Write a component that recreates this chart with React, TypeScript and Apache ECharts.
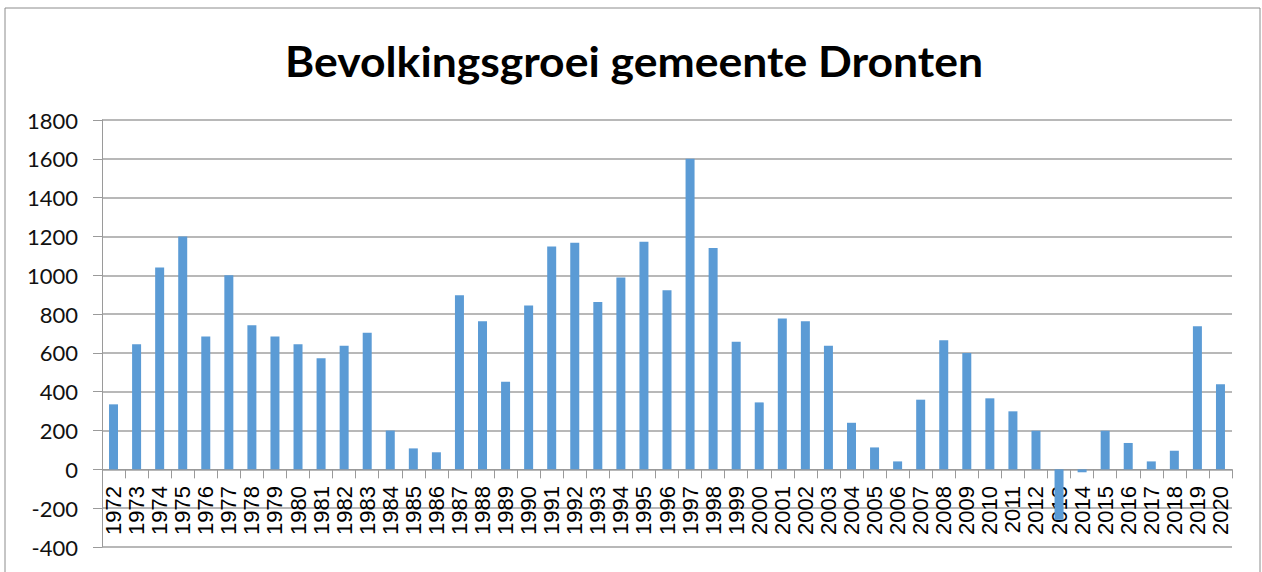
import React, { useEffect, useRef } from "react";
import * as echarts from "echarts";

const titleText = "Bevolkingsgroei gemeente Dronten";

const years: string[] = [
  "1972", "1973", "1974", "1975", "1976", "1977", "1978", "1979", "1980", "1981",
  "1982", "1983", "1984", "1985", "1986", "1987", "1988", "1989", "1990", "1991",
  "1992", "1993", "1994", "1995", "1996", "1997", "1998", "1999", "2000", "2001",
  "2002", "2003", "2004", "2005", "2006", "2007", "2008", "2009", "2010", "2011",
  "2012", "2013", "2014", "2015", "2016", "2017", "2018", "2019", "2020",
];

const growth: number[] = [
  335, 645, 1040, 1200, 685, 1000, 742, 684, 644, 572,
  637, 704, 200, 108, 88, 897, 763, 452, 844, 1148,
  1168, 862, 988, 1173, 923, 1600, 1141, 658, 345, 777,
  763, 637, 240, 113, 41, 359, 665, 600, 366, 299,
  199, -260, -15, 199, 136, 41, 96, 737, 438,
];

const yMin = -400;
const yMax = 1800;
const yStep = 200;

export default function App() {
  const ref = useRef<HTMLDivElement>(null);

  useEffect(() => {
    document.body.style.margin = "0";
    if (!ref.current) return;
    const chart = echarts.init(ref.current, undefined, { renderer: "svg" });

    const titleFont = "bold 42px Lato";
    let scaleX = 1;
    try {
      const c = document.createElement("canvas").getContext("2d");
      if (c) {
        c.font = titleFont;
        const w = c.measureText(titleText).width;
        if (w > 0) scaleX = 698 / w;
      }
    } catch (e) {
      scaleX = 1;
    }

    chart.setOption({
      animation: false,
      backgroundColor: "#ffffff",
      graphic: [
        {
          type: "rect",
          shape: { x: 5, y: 8, width: 1255, height: 600 },
          style: { fill: "none", stroke: "#8c8c8c", lineWidth: 1 },
          silent: true,
        },
        {
          type: "text",
          x: 634,
          y: 61,
          scaleX: scaleX,
          style: {
            text: titleText,
            font: titleFont,
            fill: "#000000",
            textAlign: "center",
            textVerticalAlign: "middle",
          },
        },
      ],
      grid: {
        left: 102,
        right: 30,
        top: 120,
        bottom: 25,
        containLabel: false,
        outerBoundsMode: "none",
      },
      xAxis: {
        type: "category",
        data: years,
        axisLine: { onZero: true, lineStyle: { color: "#9a9a9a", width: 1 } },
        axisTick: { show: true, interval: 0, length: 9, lineStyle: { color: "#9a9a9a" } },
        axisLabel: {
          interval: 0,
          rotate: 90,
          margin: -61,
          fontSize: 22,
          fontFamily: "Liberation Sans",
          color: "#000000",
          hideOverlap: false,
        },
      },
      yAxis: {
        type: "value",
        min: yMin,
        max: yMax,
        interval: yStep,
        axisLine: { show: true, lineStyle: { color: "#9a9a9a", width: 1 } },
        axisTick: { show: true, length: 9, lineStyle: { color: "#9a9a9a" } },
        axisLabel: {
          margin: 24,
          fontSize: 22,
          fontFamily: "Lato",
          color: "#111111",
          formatter: (v: number) => String(v),
        },
        splitLine: { show: true, lineStyle: { color: "#a0a0a0", width: 1.5 } },
      },
      series: [
        {
          type: "bar",
          data: growth,
          barWidth: 9,
          itemStyle: { color: "#5b9bd5" },
        },
      ],
    });

    return () => {
      chart.dispose();
    };
  }, []);

  return (
    <div
      ref={ref}
      style={{ position: "absolute", left: 0, top: 0, width: 1262, height: 572 }}
    />
  );
}
